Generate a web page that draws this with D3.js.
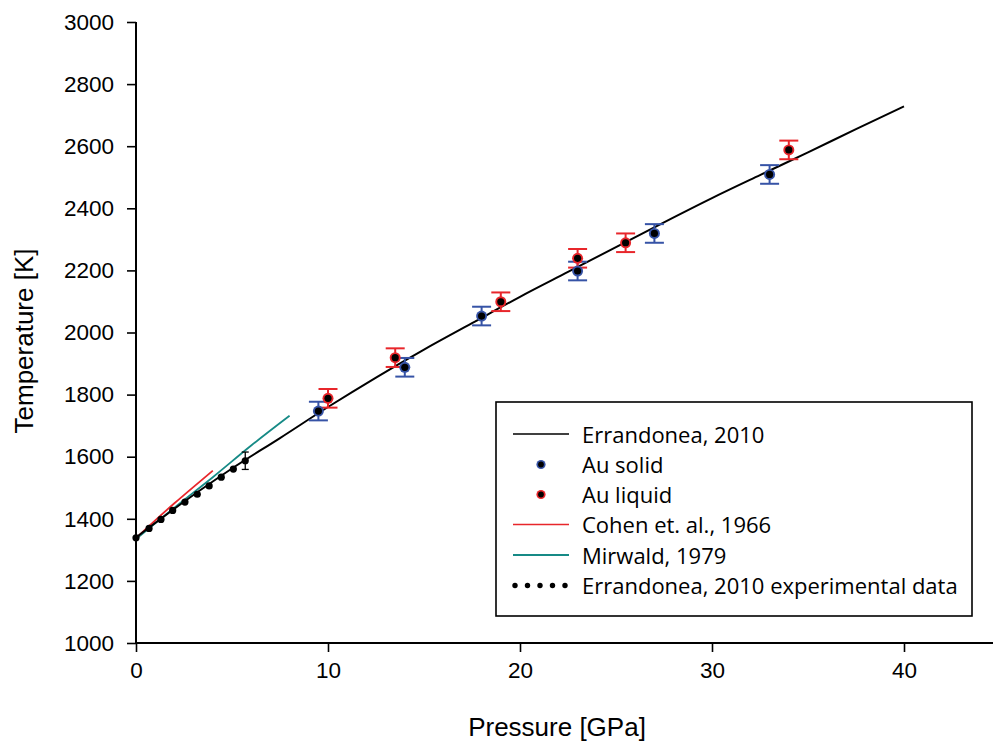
<!DOCTYPE html>
<html>
<head>
<meta charset="utf-8">
<script src="https://cdn.jsdelivr.net/npm/d3@7"></script>
<style>
  html, body { margin: 0; padding: 0; background: #fff; }
  svg { display: block; }
</style>
</head>
<body>
<svg id="chart" width="993" height="743"></svg>
<script>
// ---- data ----
const xTicks = [0, 10, 20, 30, 40];
const yTicks = [1000, 1200, 1400, 1600, 1800, 2000, 2200, 2400, 2600, 2800, 3000];

const errandoneaP = [0, 2.5, 5, 7.5, 10, 12.5, 15, 17.5, 20, 22.5, 25, 27.5, 30, 32.5, 35, 37.5, 40];
const errandoneaT = [1340, 1455, 1562, 1660, 1760, 1855, 1945, 2030, 2115, 2195, 2275, 2355, 2433, 2507, 2580, 2655, 2728];

const cohenP = [0, 1, 2, 3, 4];
const cohenT = [1338, 1395, 1450, 1503, 1555];

const mirwaldP = [0, 2, 4, 6, 8];
const mirwaldT = [1335, 1436, 1534, 1636, 1732];

const expP = [0, 0.68, 1.30, 1.91, 2.55, 3.19, 3.81, 4.44, 5.07, 5.69];
const expT = [1339, 1369, 1398, 1427, 1454, 1479, 1506, 1534, 1560, 1587];
const expErr = [0, 0, 0, 0, 0, 0, 0, 0, 0, 28];

const solidP = [9.5, 14, 18, 23, 27, 33];
const solidT = [1747, 1888, 2053, 2198, 2319, 2509];
const solidErr = [30, 30, 30, 30, 30, 30];

const liquidP = [10, 13.5, 19, 23, 25.5, 34];
const liquidT = [1788, 1919, 2099, 2239, 2289, 2588];
const liquidErr = [30, 30, 30, 30, 30, 30];

const legendLabels = ["Errandonea, 2010", "Au solid", "Au liquid", "Cohen et. al., 1966", "Mirwald, 1979", "Errandonea, 2010 experimental data"];

// ---- layout ----
const svg = d3.select("#chart");
const x = d3.scaleLinear().domain([0, 45]).range([136, 1000]);
const y = d3.scaleLinear().domain([1000, 3000]).range([643, 22]);

const BLUE = "#3653a6", RED = "#e8262b", TEAL = "#168a86";
const tickFont = "'Liberation Sans', Arial, sans-serif";
const hum = "'Open Sans', 'Noto Sans', sans-serif";

// axes
const xAxis = svg.append("g").attr("transform", `translate(0,${y(1000)})`)
  .call(d3.axisBottom(x).tickValues(xTicks).tickSize(9).tickPadding(10).tickFormat(d3.format("d")));
const yAxis = svg.append("g").attr("transform", `translate(${x(0)},0)`)
  .call(d3.axisLeft(y).tickValues(yTicks).tickSize(9).tickPadding(13).tickFormat(d3.format("d")));
[xAxis, yAxis].forEach(g => {
  g.select(".domain").attr("stroke", "#000").attr("stroke-width", 2);
  g.selectAll(".tick line").attr("stroke", "#000").attr("stroke-width", 1.6);
  g.selectAll(".tick text").attr("fill", "#000").style("font-family", tickFont).style("font-size", "22.5px");
});
xAxis.select(".domain").attr("d", `M${x(0)},0H993`);
yAxis.select(".domain").attr("d", `M0,${y(1000)}V${y(3000)}`);

// axis titles
svg.append("text").attr("x", 557).attr("y", 736).attr("text-anchor", "middle")
  .style("font-family", tickFont).style("font-size", "26px").text("Pressure [GPa]");
svg.append("text").attr("transform", "translate(33,341) rotate(-90)").attr("text-anchor", "middle")
  .style("font-family", tickFont).style("font-size", "26px").text("Temperature [K]");

// lines
const zip = (a, b) => a.map((v, i) => [v, b[i]]);
const line = d3.line().x(d => x(d[0])).y(d => y(d[1])).curve(d3.curveMonotoneX);

svg.append("path").datum(zip(mirwaldP, mirwaldT)).attr("d", line)
  .attr("fill", "none").attr("stroke", TEAL).attr("stroke-width", 1.8);
svg.append("path").datum(zip(cohenP, cohenT)).attr("d", line)
  .attr("fill", "none").attr("stroke", RED).attr("stroke-width", 1.8);
svg.append("path").datum(zip(errandoneaP, errandoneaT)).attr("d", line)
  .attr("fill", "none").attr("stroke", "#000").attr("stroke-width", 2);

// error bars
function errorBars(P, T, E, color, capHalf, width) {
  const g = svg.append("g").attr("stroke", color).attr("stroke-width", width).attr("fill", "none");
  P.forEach((p, i) => {
    if (!E[i]) return;
    const cx = x(p), y1 = y(T[i] + E[i]), y2 = y(T[i] - E[i]);
    g.append("line").attr("x1", cx).attr("x2", cx).attr("y1", y1).attr("y2", y2);
    g.append("line").attr("x1", cx - capHalf).attr("x2", cx + capHalf).attr("y1", y1).attr("y2", y1);
    g.append("line").attr("x1", cx - capHalf).attr("x2", cx + capHalf).attr("y1", y2).attr("y2", y2);
  });
}
errorBars(solidP, solidT, solidErr, BLUE, 9.5, 2);
errorBars(liquidP, liquidT, liquidErr, RED, 9.5, 2);
errorBars(expP, expT, expErr, "#000", 3.5, 1.3);

// points
function ringPoints(P, T, color) {
  const g = svg.append("g");
  P.forEach((p, i) => {
    g.append("circle").attr("cx", x(p)).attr("cy", y(T[i])).attr("r", 5.5).attr("fill", color);
    g.append("circle").attr("cx", x(p)).attr("cy", y(T[i])).attr("r", 3.6).attr("fill", "#000");
  });
}
ringPoints(solidP, solidT, BLUE);
ringPoints(liquidP, liquidT, RED);

svg.append("g").selectAll("circle").data(zip(expP, expT)).join("circle")
  .attr("cx", d => x(d[0])).attr("cy", d => y(d[1])).attr("r", 3.6).attr("fill", "#000");

// legend
const lg = svg.append("g");
lg.append("rect").attr("x", 496).attr("y", 402).attr("width", 476).attr("height", 214)
  .attr("fill", "#fff").attr("stroke", "#000").attr("stroke-width", 1.6);
const rowY = [434, 464.5, 494.5, 524.5, 555, 585.5];
lg.selectAll("text.lbl").data(legendLabels).join("text").attr("class", "lbl")
  .attr("x", 582).attr("y", (d, i) => rowY[i] + 8.5)
  .style("font-family", hum).style("font-size", "22px").attr("fill", "#000")
  .text(d => d);
// row 1
lg.append("line").attr("x1", 513).attr("x2", 569).attr("y1", rowY[0]).attr("y2", rowY[0]).attr("stroke", "#000").attr("stroke-width", 1.6);
// row 2
lg.append("circle").attr("cx", 541).attr("cy", rowY[1]).attr("r", 4.6).attr("fill", BLUE);
lg.append("circle").attr("cx", 541).attr("cy", rowY[1]).attr("r", 2.9).attr("fill", "#000");
// row 3
lg.append("circle").attr("cx", 541).attr("cy", rowY[2]).attr("r", 4.6).attr("fill", RED);
lg.append("circle").attr("cx", 541).attr("cy", rowY[2]).attr("r", 2.9).attr("fill", "#000");
// row 4
lg.append("line").attr("x1", 513).attr("x2", 569).attr("y1", rowY[3]).attr("y2", rowY[3]).attr("stroke", RED).attr("stroke-width", 1.6);
// row 5
lg.append("line").attr("x1", 513).attr("x2", 569).attr("y1", rowY[4]).attr("y2", rowY[4]).attr("stroke", TEAL).attr("stroke-width", 1.8);
// row 6
[0, 1, 2, 3, 4].forEach(i => lg.append("circle").attr("cx", 515 + i * 12.5).attr("cy", rowY[5]).attr("r", 2.7).attr("fill", "#000"));
</script>
</body>
</html>
